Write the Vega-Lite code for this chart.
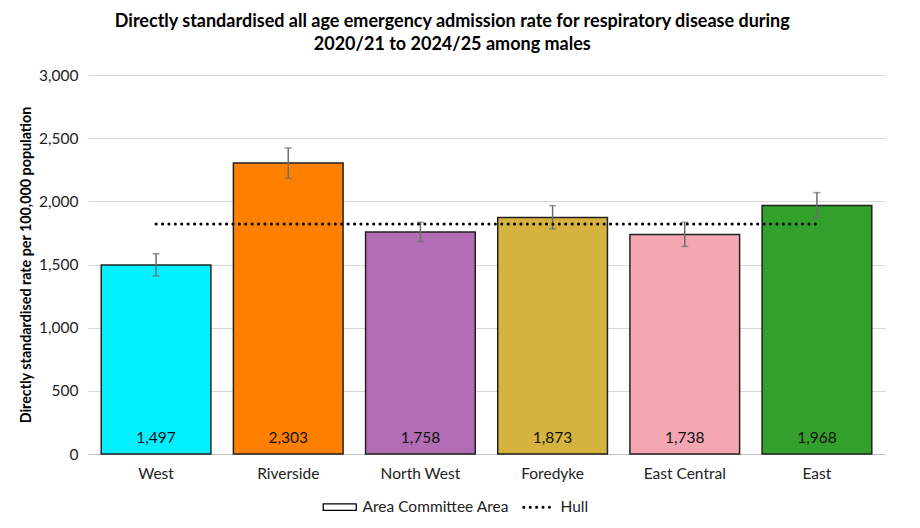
{
  "$schema": "https://vega.github.io/schema/vega-lite/v6.json",
  "width": 797,
  "height": 379,
  "autosize": {"type": "none"},
  "padding": {"left": 88, "top": 75, "right": 35, "bottom": 74},
  "background": "white",
  "config": {
    "font": "Lato",
    "view": {"stroke": null}
  },
  "title": {
    "text": ["Directly standardised all age emergency admission rate for respiratory disease during", "2020/21 to 2024/25 among males"],
    "font": "Lato",
    "fontSize": 18,
    "fontWeight": "bold",
    "color": "black",
    "anchor": "middle",
    "frame": "bounds",
    "offset": 14,
    "lineHeight": 23
  },
  "data": {
    "values": [
      {"area": "West", "value": 1497, "lo": 1411, "hi": 1585, "hull": 1820, "colour": "#00F0FF"},
      {"area": "Riverside", "value": 2303, "lo": 2183, "hi": 2422, "hull": 1820, "colour": "#FF8000"},
      {"area": "North West", "value": 1758, "lo": 1682, "hi": 1834, "hull": 1820, "colour": "#B36DB5"},
      {"area": "Foredyke", "value": 1873, "lo": 1782, "hi": 1966, "hull": 1820, "colour": "#D5B33E"},
      {"area": "East Central", "value": 1738, "lo": 1643, "hi": 1834, "hull": 1820, "colour": "#F4A6B3"},
      {"area": "East", "value": 1968, "lo": 1868, "hi": 2069, "hull": 1820, "colour": "#34A02C"}
    ]
  },
  "encoding": {
    "x": {
      "field": "area",
      "type": "nominal",
      "sort": null,
      "scale": {"paddingInner": 0.17, "paddingOuter": 0.1},
      "axis": {
        "title": null,
        "labelAngle": 0,
        "labelFontSize": 15.5,
        "labelColor": "#222",
        "labelPadding": 12,
        "ticks": false,
        "domain": true,
        "domainColor": "#bfbfbf",
        "domainWidth": 1
      }
    }
  },
  "layer": [
    {
      "mark": {"type": "bar", "stroke": "#222", "strokeWidth": 1.5},
      "encoding": {
        "y": {
          "field": "value",
          "type": "quantitative",
          "scale": {"domain": [0, 3000]},
          "axis": {
            "title": "Directly standardised rate per 100,000 population",
            "titleFontSize": 14.3,
            "titleFontWeight": "bold",
            "titleColor": "black",
            "titlePadding": 5,
            "values": [0, 500, 1000, 1500, 2000, 2500, 3000],
            "format": ",d",
            "labelFontSize": 15.5,
            "labelColor": "#222",
            "labelPadding": 10,
            "ticks": false,
            "domain": false,
            "gridColor": "#d9d9d9",
            "gridWidth": 1
          }
        },
        "fill": {"field": "colour", "type": "nominal", "scale": null, "legend": null}
      }
    },
    {
      "mark": {"type": "rule", "color": "#6e6e6e", "strokeWidth": 1.5},
      "encoding": {
        "y": {"field": "lo", "type": "quantitative"},
        "y2": {"field": "hi"}
      }
    },
    {
      "mark": {"type": "tick", "color": "#6e6e6e", "size": 7, "thickness": 1.5},
      "encoding": {"y": {"field": "lo", "type": "quantitative"}}
    },
    {
      "mark": {"type": "tick", "color": "#6e6e6e", "size": 7, "thickness": 1.5},
      "encoding": {"y": {"field": "hi", "type": "quantitative"}}
    },
    {
      "mark": {"type": "line", "color": "black", "strokeWidth": 3, "strokeCap": "round"},
      "encoding": {
        "y": {"field": "hull", "type": "quantitative"},
        "strokeDash": {
          "datum": "Hull",
          "type": "nominal",
          "scale": {"domain": ["Area Committee Area", "Hull"], "range": [[1, 0], [0.1, 6.3]]},
          "legend": {
            "title": null,
            "orient": "none",
            "legendX": 244,
            "legendY": 424,
            "direction": "horizontal",
            "labelFontSize": 15.5,
            "labelColor": "#222",
            "columnPadding": 8,
            "labelOffset": 15,
            "symbolSize": 1089,
            "symbolType": "stroke",
            "symbolStrokeColor": "black",
            "symbolOpacity": 1,
            "encode": {
              "symbols": {
                "update": {
                  "shape": {"signal": "datum.value === 'Hull' ? 'stroke' : 'M-1,-0.2H1V0.2H-1Z'"},
                  "size": {"signal": "datum.value === 'Hull' ? 784 : 1089"},
                  "stroke": {"value": "black"},
                  "fill": {"value": "white"},
                  "strokeWidth": {"signal": "datum.value === 'Hull' ? 3 : 1.3"},
                  "strokeCap": {"value": "round"},
                  "strokeDash": {"signal": "datum.value === 'Hull' ? [0.1, 4.7] : [1, 0]"},
                  "opacity": {"value": 1}
                }
              }
            }
          }
        }
      }
    },
    {
      "mark": {"type": "text", "fontSize": 15.5, "color": "#111", "baseline": "middle", "dy": -16},
      "encoding": {
        "y": {"datum": 0, "type": "quantitative"},
        "text": {"field": "value", "type": "quantitative", "format": ",d"}
      }
    }
  ]
}
